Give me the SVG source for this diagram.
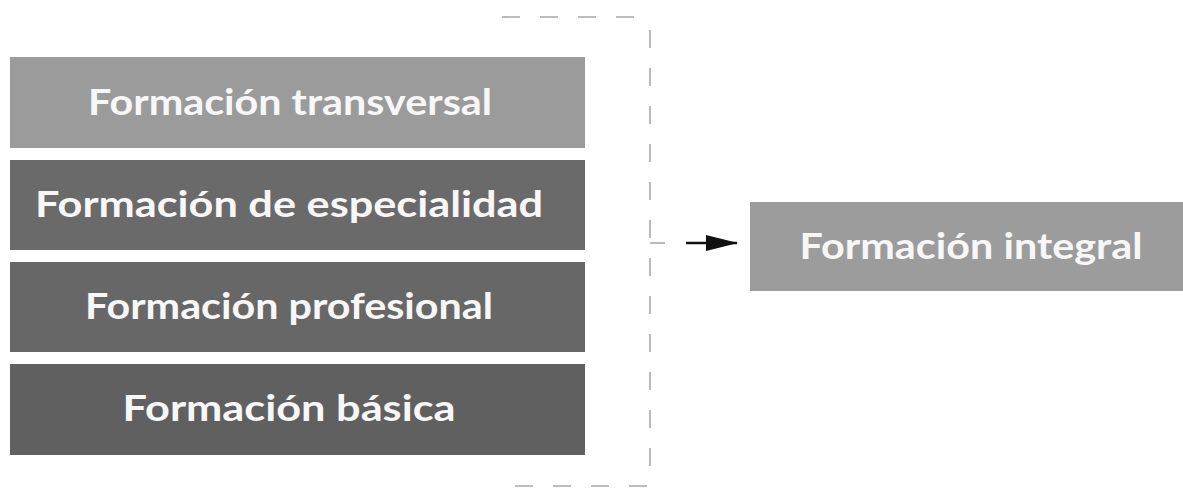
<svg xmlns="http://www.w3.org/2000/svg" width="1183" height="488" viewBox="0 0 1183 488">
<style>
.lbl{font-family:"Lato","Liberation Sans",sans-serif;font-weight:bold;font-size:37px;fill:#f7f7f7;text-anchor:middle}
.dash{stroke:#a8a8a8;stroke-width:1.6;fill:none;stroke-dasharray:18 20}
</style>
<rect width="1183" height="488" fill="#ffffff"/>
<g id="n1"><rect x="10" y="57" width="575" height="91" fill="#9b9b9b"/><text class="lbl" x="290" y="115" textLength="404" lengthAdjust="spacingAndGlyphs">Formación transversal</text></g>
<g id="n2"><rect x="10" y="160" width="575" height="90" fill="#6a6a6a"/><text class="lbl" x="289" y="217" textLength="508" lengthAdjust="spacingAndGlyphs">Formación de especialidad</text></g>
<g id="n3"><rect x="10" y="262" width="575" height="90" fill="#676767"/><text class="lbl" x="289" y="319" textLength="408" lengthAdjust="spacingAndGlyphs">Formación profesional</text></g>
<g id="n4"><rect x="10" y="364" width="575" height="91" fill="#606060"/><text class="lbl" x="289" y="421" textLength="333" lengthAdjust="spacingAndGlyphs">Formación básica</text></g>
<g id="n5"><rect x="750" y="202" width="433" height="89" fill="#9c9c9c"/><text class="lbl" x="971" y="259" textLength="343" lengthAdjust="spacingAndGlyphs">Formación integral</text></g>
<g id="connectors">
<path class="dash" d="M502,17 H636"/>
<path class="dash" d="M650,30 V470" stroke-dasharray="15 22"/>
<path class="dash" d="M515,486 H650"/>
<path d="M650,243 H665" stroke="#a8a8a8" stroke-width="1.6"/>
<path d="M686,243 H737" stroke="#111" stroke-width="2.5"/>
<path d="M706,235 L738,243 L706,251 Z" fill="#111"/>
</g>
</svg>
